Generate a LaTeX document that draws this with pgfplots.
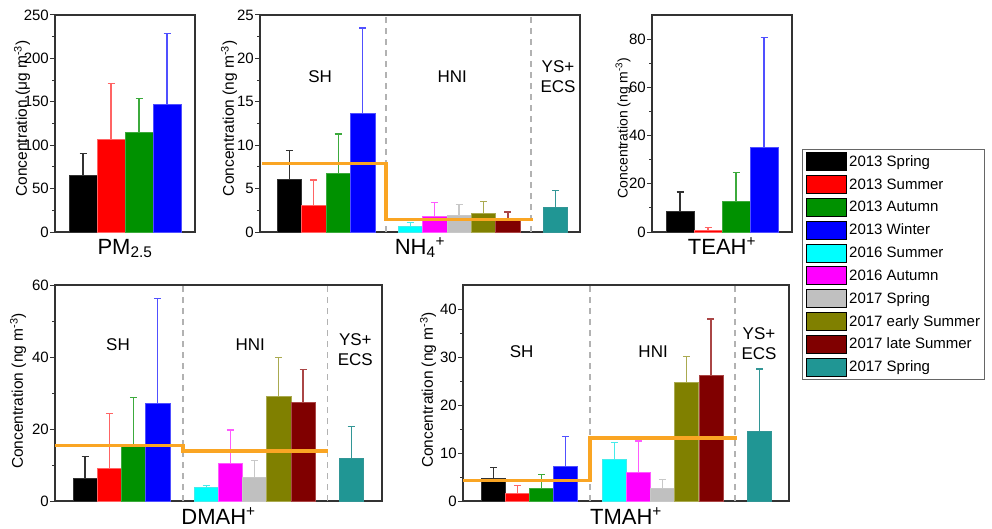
\documentclass[border=0pt]{standalone}
\usepackage{fontspec}
\setmainfont{Liberation Sans}
\usepackage{pgfplots}
\pgfplotsset{compat=1.18}

\definecolor{cK}{RGB}{0,0,0}
\definecolor{cKe}{RGB}{50,50,50}
\definecolor{cR}{RGB}{255,0,0}
\definecolor{cRe}{RGB}{255,100,100}
\definecolor{cG}{RGB}{0,145,0}
\definecolor{cGe}{RGB}{60,170,60}
\definecolor{cB}{RGB}{0,0,255}
\definecolor{cBe}{RGB}{80,80,255}
\definecolor{cC}{RGB}{0,255,255}
\definecolor{cCe}{RGB}{70,235,235}
\definecolor{cM}{RGB}{255,0,255}
\definecolor{cMe}{RGB}{255,90,255}
\definecolor{cS}{RGB}{192,192,192}
\definecolor{cSe}{RGB}{200,200,200}
\definecolor{cO}{RGB}{128,128,0}
\definecolor{cOe}{RGB}{170,170,80}
\definecolor{cMa}{RGB}{128,0,0}
\definecolor{cMae}{RGB}{170,70,70}
\definecolor{cT}{RGB}{32,150,148}
\definecolor{cTe}{RGB}{50,150,150}
\definecolor{cOr}{RGB}{250,165,35}

\pgfplotsset{
  panel/.style={scale only axis, xmin=0, ymin=0, xtick=\empty, ytick pos=left,
    tick align=outside, major tick length=5pt, minor tick length=3pt, minor y tick num=1,
    axis line style={draw=black!80, line width=1.2pt},
    tick style={black!80, line width=1pt},
    tick label style={font=\fontsize{15}{15}\selectfont},
    yticklabel style={inner xsep=1pt},
    /pgf/number format/assume math mode=true, scaled y ticks=false,
    ylabel style={anchor=center, font=\fontsize{15.5}{15.5}\selectfont},
    xlabel style={at={(axis description cs:0.5,0)}, anchor=base, font=\fontsize{22}{22}\selectfont},
    clip=false},
  mybar/.style 2 args={ybar, bar width=1, bar shift=0pt, fill=#1, draw=#2, line width=0.6pt, forget plot,
    /pgfplots/error bars/y dir=plus, /pgfplots/error bars/y explicit,
    /pgfplots/error bars/error mark=-,
    /pgfplots/error bars/error bar style={draw=#2, line width=1.2pt},
    /pgfplots/error bars/error mark options={rotate=90, draw=#2, line width=1.2pt, mark size=3.5pt}},
  sep/.style={draw=black!30, line width=1.5pt, dash pattern=on 6pt off 5pt, forget plot},
  oline/.style={draw=cOr, line width=3.5pt, forget plot},
}
\tikzset{lab/.style={font=\fontsize{17}{20}\selectfont, align=center}}

\begin{document}
\begin{tikzpicture}
\useasboundingbox (0,0) rectangle (992pt,528pt);

% ---------------- PM2.5
\begin{axis}[panel, at={(55pt,296pt)}, anchor=south west, width=140pt, height=217pt,
  xmax=5, ymax=250, ytick={0,50,100,150,200,250},
  ylabel={Concentration (μg m\textsuperscript{-3})},
  ylabel style={at={(axis description cs:-0.235,0.523)}},
  xlabel={PM\textsubscript{2.5}}, xlabel style={yshift=-22pt}]
\addplot[mybar={cK}{cKe}] coordinates {(1,65) +- (0,25)};
\addplot[mybar={cR}{cRe}] coordinates {(2,107) +- (0,64)};
\addplot[mybar={cG}{cGe}] coordinates {(3,115) +- (0,39)};
\addplot[mybar={cB}{cBe}] coordinates {(4,147) +- (0,82)};
\end{axis}

% ---------------- NH4+
\begin{axis}[panel, at={(260pt,296pt)}, anchor=south west, width=320pt, height=217pt,
  xmax=13.1, ymax=25, ytick={0,5,10,15,20,25},
  ylabel={Concentration (ng m\textsuperscript{-3})},
  ylabel style={at={(axis description cs:-0.097,0.524)}},
  xlabel={NH\textsubscript{4}\textsuperscript{+}}, xlabel style={yshift=-22pt}]
\addplot[mybar={cK}{cKe}] coordinates {(1.2,6.1) +- (0,3.3)};
\addplot[mybar={cR}{cRe}] coordinates {(2.2,3.1) +- (0,2.9)};
\addplot[mybar={cG}{cGe}] coordinates {(3.2,6.8) +- (0,4.5)};
\addplot[mybar={cB}{cBe}] coordinates {(4.2,13.7) +- (0,9.8)};
\addplot[mybar={cC}{cCe}] coordinates {(6.15,0.7) +- (0,0.4)};
\addplot[mybar={cM}{cMe}] coordinates {(7.15,1.8) +- (0,1.6)};
\addplot[mybar={cS}{cSe}] coordinates {(8.15,1.9) +- (0,1.3)};
\addplot[mybar={cO}{cOe}] coordinates {(9.15,2.1) +- (0,1.4)};
\addplot[mybar={cMa}{cMae}] coordinates {(10.15,1.3) +- (0,1.0)};
\addplot[mybar={cT}{cTe}] coordinates {(12.1,2.8) +- (0,2.0)};
\addplot[sep] coordinates {(5.15,0) (5.15,25)};
\addplot[sep] coordinates {(11.1,0) (11.1,25)};
\addplot[oline] coordinates {(0.07,7.9) (5.15,7.9) (5.15,1.45) (11.17,1.45)};
\node[lab] at (axis cs:2.46,17.9) {SH};
\node[lab] at (axis cs:7.87,17.9) {HNI};
\node[lab] at (axis cs:12.2,17.9) {YS+\\ECS};
\end{axis}

% ---------------- TEAH+
\begin{axis}[panel, at={(652pt,296pt)}, anchor=south west, width=140pt, height=217pt,
  xmax=5, ymax=90, ytick={0,20,40,60,80},
  ylabel={Concentration (ng m\textsuperscript{-3})},
  ylabel style={at={(axis description cs:-0.207,0.48)}, font=\fontsize{14}{14}\selectfont},
  xlabel={TEAH\textsuperscript{+}}, xlabel style={yshift=-22pt},
  legend cell align=left,
  legend image code/.code={\fill[#1] (0pt,-9pt) rectangle (40pt,9pt);},
  legend style={at={(1.0714,0.3825)}, anchor=north west, draw=black!60, line width=0.8pt,
    font=\fontsize{15}{15}\selectfont, inner xsep=4pt, inner ysep=3pt, row sep=4pt, column sep=2pt,
    nodes={inner sep=0pt}}]
\addplot[mybar={cK}{cKe}] coordinates {(1,8.6) +- (0,8.0)};
\addplot[mybar={cR}{cRe}] coordinates {(2,0.7) +- (0,1.1)};
\addplot[mybar={cG}{cGe}] coordinates {(3,12.6) +- (0,12.1)};
\addplot[mybar={cB}{cBe}] coordinates {(4,35.2) +- (0,45.5)};
\addlegendimage{fill=cK}\addlegendentry{2013 Spring}
\addlegendimage{fill=cR}\addlegendentry{2013 Summer}
\addlegendimage{fill=cG}\addlegendentry{2013 Autumn}
\addlegendimage{fill=cB}\addlegendentry{2013 Winter}
\addlegendimage{fill=cC}\addlegendentry{2016 Summer}
\addlegendimage{fill=cM}\addlegendentry{2016 Autumn}
\addlegendimage{fill=cS}\addlegendentry{2017 Spring}
\addlegendimage{fill=cO}\addlegendentry{2017 early Summer}
\addlegendimage{fill=cMa}\addlegendentry{2017 late Summer}
\addlegendimage{fill=cT}\addlegendentry{2017 Spring}
\end{axis}

% ---------------- DMAH+
\begin{axis}[panel, at={(55pt,27pt)}, anchor=south west, width=327pt, height=216pt,
  xmax=13.5, ymax=60, ytick={0,20,40,60},
  ylabel={Concentration (ng m\textsuperscript{-3})},
  ylabel style={at={(axis description cs:-0.113,0.509)}},
  xlabel={DMAH\textsuperscript{+}}, xlabel style={yshift=-23pt}]
\addplot[mybar={cK}{cKe}] coordinates {(1.24,6.3) +- (0,6.0)};
\addplot[mybar={cR}{cRe}] coordinates {(2.24,9.0) +- (0,15.2)};
\addplot[mybar={cG}{cGe}] coordinates {(3.24,15.5) +- (0,13.3)};
\addplot[mybar={cB}{cBe}] coordinates {(4.24,27.2) +- (0,29.1)};
\addplot[mybar={cC}{cCe}] coordinates {(6.24,3.8) +- (0,0.55)};
\addplot[mybar={cM}{cMe}] coordinates {(7.24,10.6) +- (0,9.1)};
\addplot[mybar={cS}{cSe}] coordinates {(8.24,6.6) +- (0,4.6)};
\addplot[mybar={cO}{cOe}] coordinates {(9.24,29.0) +- (0,10.8)};
\addplot[mybar={cMa}{cMae}] coordinates {(10.24,27.4) +- (0,9.1)};
\addplot[mybar={cT}{cTe}] coordinates {(12.23,11.9) +- (0,8.7)};
\addplot[sep] coordinates {(5.28,0) (5.28,60)};
\addplot[sep] coordinates {(11.24,0) (11.24,60)};
\addplot[oline] coordinates {(0,15.4) (5.28,15.4) (5.28,13.9) (11.28,13.9)};
\node[lab] at (axis cs:2.6,43.3) {SH};
\node[lab] at (axis cs:8.06,43.3) {HNI};
\node[lab] at (axis cs:12.4,42) {YS+\\ECS};
\end{axis}

% ---------------- TMAH+
\begin{axis}[panel, at={(463pt,27pt)}, anchor=south west, width=326pt, height=216pt,
  xmax=13.58, ymax=45, ytick={0,10,20,30,40},
  ylabel={Concentration (ng m\textsuperscript{-3})},
  ylabel style={at={(axis description cs:-0.107,0.514)}},
  xlabel={TMAH\textsuperscript{+}}, xlabel style={yshift=-23pt}]
\addplot[mybar={cK}{cKe}] coordinates {(1.28,4.7) +- (0,2.3)};
\addplot[mybar={cR}{cRe}] coordinates {(2.28,1.6) +- (0,1.6)};
\addplot[mybar={cG}{cGe}] coordinates {(3.28,2.6) +- (0,3.0)};
\addplot[mybar={cB}{cBe}] coordinates {(4.28,7.2) +- (0,6.2)};
\addplot[mybar={cC}{cCe}] coordinates {(6.31,8.6) +- (0,3.6)};
\addplot[mybar={cM}{cMe}] coordinates {(7.31,6.0) +- (0,6.5)};
\addplot[mybar={cS}{cSe}] coordinates {(8.32,2.6) +- (0,1.8)};
\addplot[mybar={cO}{cOe}] coordinates {(9.32,24.8) +- (0,5.3)};
\addplot[mybar={cMa}{cMae}] coordinates {(10.33,26.2) +- (0,11.7)};
\addplot[mybar={cT}{cTe}] coordinates {(12.36,14.5) +- (0,13.0)};
\addplot[sep] coordinates {(5.29,0) (5.29,45)};
\addplot[sep] coordinates {(11.33,0) (11.33,45)};
\addplot[oline] coordinates {(0,4.3) (5.29,4.3) (5.29,13.1) (11.42,13.1)};
\node[lab] at (axis cs:2.44,31.2) {SH};
\node[lab] at (axis cs:7.92,31.2) {HNI};
\node[lab] at (axis cs:12.33,32.7) {YS+\\ECS};
\end{axis}
\end{tikzpicture}
\end{document}
